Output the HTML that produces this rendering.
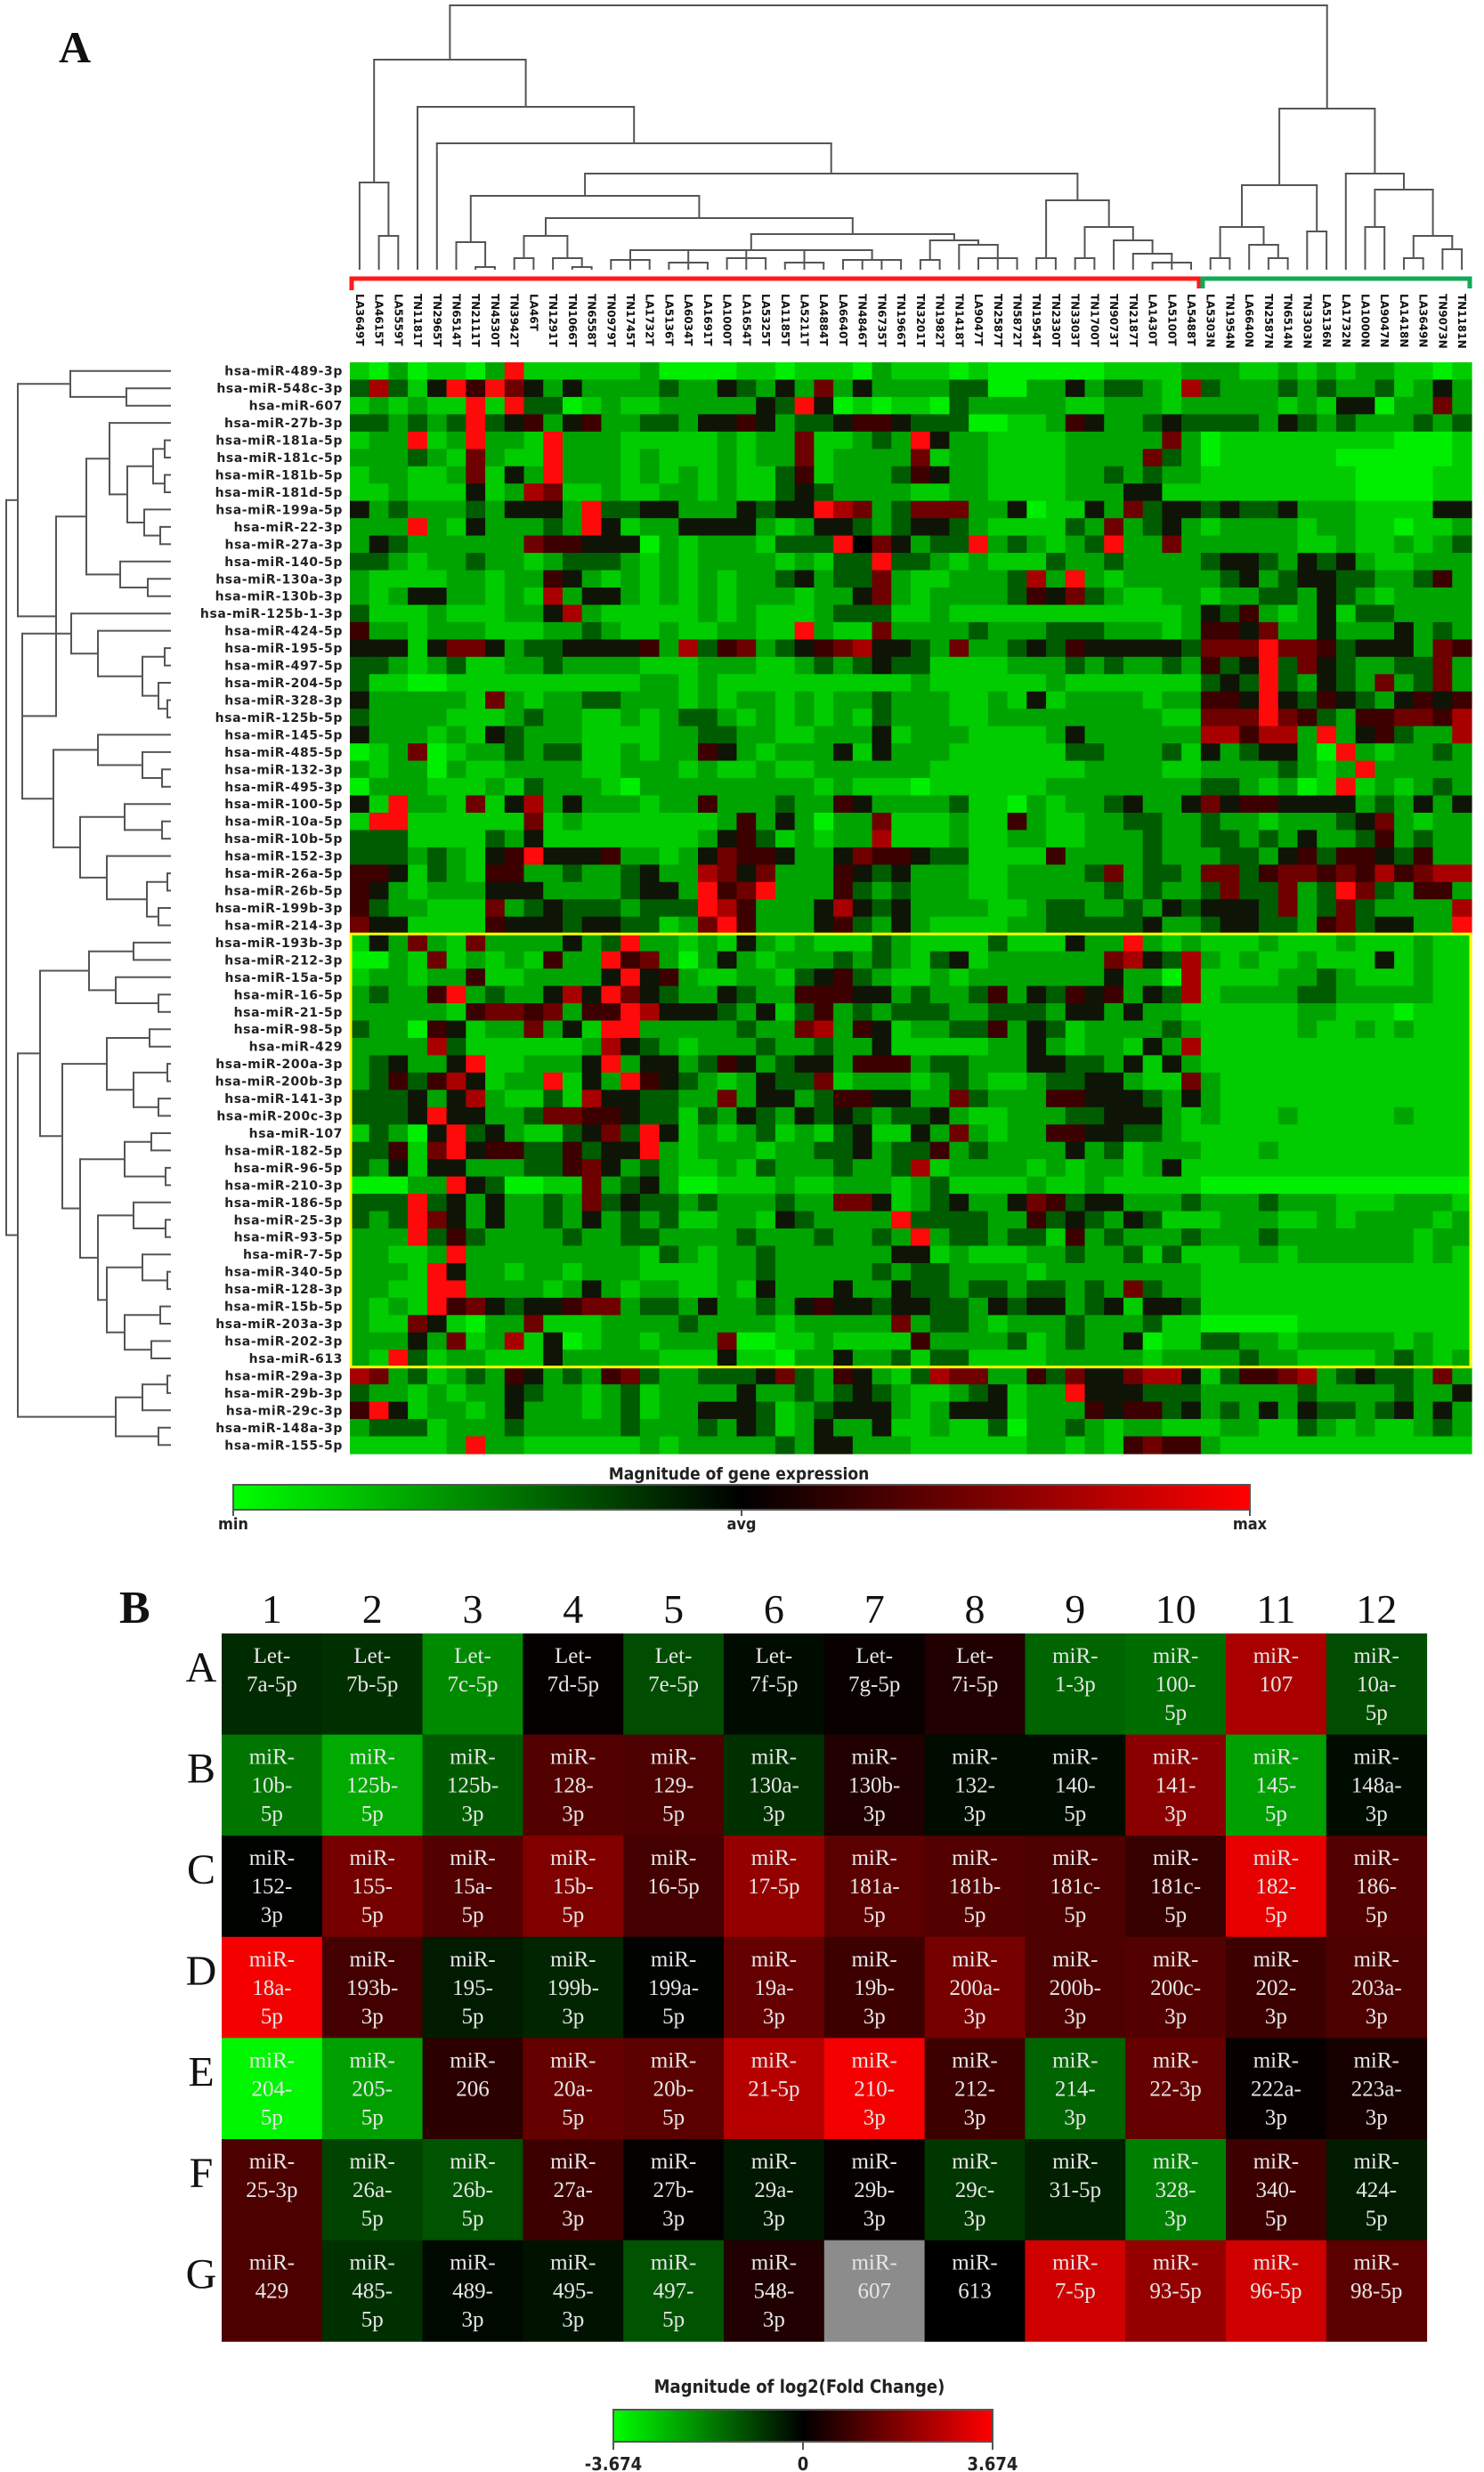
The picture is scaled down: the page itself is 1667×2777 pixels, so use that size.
<!DOCTYPE html>
<html><head><meta charset="utf-8">
<style>
html,body{margin:0;padding:0;background:#fff;}
svg{display:block;}
.rl{font-family:"DejaVu Sans",sans-serif;font-weight:bold;font-size:14px;fill:#222;letter-spacing:0.6px;}
.cl{font-family:"DejaVu Sans",sans-serif;font-weight:bold;font-size:12px;fill:#111;}
.ser{font-family:"Liberation Serif",serif;}
.cb{font-family:"DejaVu Sans Condensed","DejaVu Sans",sans-serif;font-weight:bold;fill:#222;}
</style></head>
<body>
<svg id="fig" width="1667" height="2777" viewBox="0 0 1667 2777" xmlns="http://www.w3.org/2000/svg">
<defs>
<linearGradient id="gA" x1="0" x2="1" y1="0" y2="0"><stop offset="0" stop-color="#00ff00"/><stop offset="0.5" stop-color="#000000"/><stop offset="1" stop-color="#ff0000"/></linearGradient>
</defs>
<text x="66" y="70" class="ser" font-size="50" font-weight="bold" fill="#111">A</text>
<text x="134" y="1823" class="ser" font-size="52" font-weight="bold" fill="#111">B</text>
<g id="dendTop"></g>
<g id="dendLeft"></g>
<g id="brackets"></g>
<g id="colLabels"></g>
<g id="rowLabels"></g>
<g id="heatA"></g>
<g id="legendA">
<text x="830" y="1662" text-anchor="middle" class="cb" font-size="19">Magnitude of gene expression</text>
<rect x="262" y="1668" width="1142" height="28" fill="url(#gA)" stroke="#555" stroke-width="2"/>
<line x1="262" y1="1696" x2="262" y2="1703" stroke="#555" stroke-width="2"/>
<line x1="833" y1="1696" x2="833" y2="1703" stroke="#555" stroke-width="2"/>
<line x1="1404" y1="1696" x2="1404" y2="1703" stroke="#555" stroke-width="2"/>
<text x="262" y="1718" text-anchor="middle" class="cb" font-size="18">min</text>
<text x="833" y="1718" text-anchor="middle" class="cb" font-size="18">avg</text>
<text x="1404" y="1718" text-anchor="middle" class="cb" font-size="18">max</text>
</g>
<g id="heatB"></g>
<g id="legendB">
<text x="898" y="2688" text-anchor="middle" class="cb" font-size="20">Magnitude of log2(Fold Change)</text>
<rect x="689" y="2707" width="426" height="36" fill="url(#gA)" stroke="#555" stroke-width="2"/>
<line x1="689" y1="2743" x2="689" y2="2752" stroke="#555" stroke-width="2"/>
<line x1="902" y1="2743" x2="902" y2="2752" stroke="#555" stroke-width="2"/>
<line x1="1115" y1="2743" x2="1115" y2="2752" stroke="#555" stroke-width="2"/>
<text x="689" y="2775" text-anchor="middle" class="cb" font-size="20">-3.674</text>
<text x="902" y="2775" text-anchor="middle" class="cb" font-size="20">0</text>
<text x="1115" y="2775" text-anchor="middle" class="cb" font-size="20">3.674</text>
</g>
</svg>
<script>
var rowNames=["hsa-miR-489-3p","hsa-miR-548c-3p","hsa-miR-607","hsa-miR-27b-3p","hsa-miR-181a-5p","hsa-miR-181c-5p","hsa-miR-181b-5p","hsa-miR-181d-5p","hsa-miR-199a-5p","hsa-miR-22-3p","hsa-miR-27a-3p","hsa-miR-140-5p","hsa-miR-130a-3p","hsa-miR-130b-3p","hsa-miR-125b-1-3p","hsa-miR-424-5p","hsa-miR-195-5p","hsa-miR-497-5p","hsa-miR-204-5p","hsa-miR-328-3p","hsa-miR-125b-5p","hsa-miR-145-5p","hsa-miR-485-5p","hsa-miR-132-3p","hsa-miR-495-3p","hsa-miR-100-5p","hsa-miR-10a-5p","hsa-miR-10b-5p","hsa-miR-152-3p","hsa-miR-26a-5p","hsa-miR-26b-5p","hsa-miR-199b-3p","hsa-miR-214-3p","hsa-miR-193b-3p","hsa-miR-212-3p","hsa-miR-15a-5p","hsa-miR-16-5p","hsa-miR-21-5p","hsa-miR-98-5p","hsa-miR-429","hsa-miR-200a-3p","hsa-miR-200b-3p","hsa-miR-141-3p","hsa-miR-200c-3p","hsa-miR-107","hsa-miR-182-5p","hsa-miR-96-5p","hsa-miR-210-3p","hsa-miR-186-5p","hsa-miR-25-3p","hsa-miR-93-5p","hsa-miR-7-5p","hsa-miR-340-5p","hsa-miR-128-3p","hsa-miR-15b-5p","hsa-miR-203a-3p","hsa-miR-202-3p","hsa-miR-613","hsa-miR-29a-3p","hsa-miR-29b-3p","hsa-miR-29c-3p","hsa-miR-148a-3p","hsa-miR-155-5p"];
var colNames=["LA3649T","LA4615T","LA5559T","TN1181T","TN2965T","TN6514T","TN2111T","TN4530T","TN3942T","LA46T","TN1291T","TN1066T","TN6558T","TN0979T","TN1745T","LA1732T","LA5136T","LA6034T","LA1691T","LA1000T","LA1654T","LA5325T","LA1185T","LA5211T","LA4884T","LA6640T","TN4846T","TN6735T","TN1966T","TN3201T","TN1982T","TN1418T","LA9047T","TN2587T","TN5872T","TN1954T","TN2330T","TN3303T","TN1700T","TN9073T","TN2187T","LA1430T","LA5100T","LA5488T","LA5303N","TN1954N","LA6640N","TN2587N","TN6514N","TN3303N","LA5136N","LA1732N","LA1000N","LA9047N","LA1418N","LA3649N","TN9073N","TN1181N"];
var exprRows=[
"1020110281111112000011011102111010000001111222112121221101",
"3731485864242222322432426242222330022423321732223232231242",
"1212118183301211222224384010110322222112221222221214402262",
"3323238345245223324454233455433300112542234333324323222323",
"1228128221822211111212261123284221111222226201111111110001",
"2223216211822212111212261222261221111222263201111110000001",
"1221126142822212121211351222354221111223232211111111000011",
"1121114127611211221211343222211221111222441111111111000011",
"4232223244428334422243448762366622401142634434334222111144",
"2228214222328412244442124432344321111326234212222122110112",
"2432222226554440212221333896423382321238226222222112112123",
"3321223221233321212222121338332121113223222234432434211222",
"2111122122542121212122342336211222372821222223423443322352",
"2124422121724421212122212246212222354632112212233243212222",
"3111211122472111112121112333112111111111111243521241332222",
"5221222111223211211221182116222232223332221255462242224232",
"4441466423344445273562345674432622343544444366686653444265",
"3321231122322221112221123234331111222323223253483643223362",
"3110011111111112212111111111121111112111111134383243262362",
"4222221621223322212122121223222112141222212255484354324545",
"3222211123221121233212121213222112222222221166686532556657",
"4222121432221111223322112224122211112422222277577282453227",
"0126012232331121225421222414222111111332223142344208212232",
"2122021122221122212112112222221111111122221122223212822222",
"0222111213222102222222221211101111112222222233212018121232",
"4182216147242221225222322542222311021223422464554444232424",
"1881111116121111111252420226111211521122332232212223462122",
"3331111324111111112453121227111211221122232233232422352322",
"3332321458444522124655422465543311115222232223324535543522",
"5541321552232234227646222543422211222236233266356656575677",
"5421222444222234428568222532322211222223232236336238632552",
"5322111623433323338752224743422221123322324344436236322227",
"6441111544434433126852224532421111223333342234433256344228",
"1426216222242382212142121113211113111422821211121112111211",
"0021612121522856202421222323213412222226743721211211141211",
"1221225112222484521122134532112122222224220711112232111211",
"2322582322474864322432255544232235243545243712222332222211",
"2222215665625587444324135232333223332442422111111221110111",
"3220541226241882222232267254122335243122223211111211212111",
"2222731111112743212223223224111112242122142711111111111111",
"2342248112224824423542344255523322244332414211111111111111",
"2353574122814285432124336122212321123344211621111111111111",
"3334247211317443322624423554422632225544432421111111111111",
"3334844223665543313243243432334211222334442121112111112111",
"1320483421134638412123121341142621225544332111111111111111",
"3351684553353448212221223342335232222423122211121111111111",
"3241442223356423211213222322371222212122124111111111111111",
"0002284300116234200111211222123111121121111100000000000000",
"3338342422326343323222322664123422465344222322232221112221",
"3238642422324232311221432222833332253432431112221121222212",
"2228353222232233222232223223282332331523222322232222222122",
"2211282222222221321223222222441211122322313111221222222121",
"2221842212212221111223222223233222212222222211111111111111",
"2211882222124212211214222422433233233232632211111111111111",
"2121856434456623324223245443443324344234144311111111111111",
"2116410226111222232222122222623321222322231100000111111111",
"2224261271401221222600112111152222312322401133221222221211",
"2183122111422222111411022422313311112222212222322111123212",
"7623123254232563223334632542137662253644677413556723433262",
"3221212243221231222242232343211234122844433322222322223224",
"5841221242221231224443123444212444122254553423242433234242",
"2333122232222232223243124224112113022321221112211321211232",
"1111128221111112122222324422211111122121565521111111111111"
];
var plateRows=["A","B","C","D","E","F","G"];
var plateCols=["1","2","3","4","5","6","7","8","9","10","11","12"];
var plateLabels=[
["Let-|7a-5p","Let-|7b-5p","Let-|7c-5p","Let-|7d-5p","Let-|7e-5p","Let-|7f-5p","Let-|7g-5p","Let-|7i-5p","miR-|1-3p","miR-|100-|5p","miR-|107","miR-|10a-|5p"],
["miR-|10b-|5p","miR-|125b-|5p","miR-|125b-|3p","miR-|128-|3p","miR-|129-|5p","miR-|130a-|3p","miR-|130b-|3p","miR-|132-|3p","miR-|140-|5p","miR-|141-|3p","miR-|145-|5p","miR-|148a-|3p"],
["miR-|152-|3p","miR-|155-|5p","miR-|15a-|5p","miR-|15b-|5p","miR-|16-5p","miR-|17-5p","miR-|181a-|5p","miR-|181b-|5p","miR-|181c-|5p","miR-|181c-|5p","miR-|182-|5p","miR-|186-|5p"],
["miR-|18a-|5p","miR-|193b-|3p","miR-|195-|5p","miR-|199b-|3p","miR-|199a-|5p","miR-|19a-|3p","miR-|19b-|3p","miR-|200a-|3p","miR-|200b-|3p","miR-|200c-|3p","miR-|202-|3p","miR-|203a-|3p"],
["miR-|204-|5p","miR-|205-|5p","miR-|206","miR-|20a-|5p","miR-|20b-|5p","miR-|21-5p","miR-|210-|3p","miR-|212-|3p","miR-|214-|3p","miR-|22-3p","miR-|222a-|3p","miR-|223a-|3p"],
["miR-|25-3p","miR-|26a-|5p","miR-|26b-|5p","miR-|27a-|3p","miR-|27b-|3p","miR-|29a-|3p","miR-|29b-|3p","miR-|29c-|3p","miR-|31-5p","miR-|328-|3p","miR-|340-|5p","miR-|424-|5p"],
["miR-|429","miR-|485-|5p","miR-|489-|3p","miR-|495-|3p","miR-|497-|5p","miR-|548-|3p","miR-|607","miR-|613","miR-|7-5p","miR-|93-5p","miR-|96-5p","miR-|98-5p"]
];
var foldA=[-1.5,-1.6,-2.7,0.5,-2.0,-0.8,0.7,1.3,-2.3,-2.4,3.0,-2.0];
var foldB=[-2.5,-3.0,-2.2,2.1,2.0,-1.6,1.3,-0.8,-0.8,2.7,-2.9,-0.8];
var foldC=[-0.3,2.5,2.1,2.6,1.9,2.8,2.2,2.1,2.0,1.7,3.5,2.1];
var foldD=[3.6,1.9,-1.2,-1.4,-0.4,2.3,1.8,2.5,2.0,2.1,1.8,2.0];
var foldE=[-3.6,-2.9,1.5,2.3,2.2,3.1,3.6,1.8,-2.3,2.3,0.6,1.1];
var foldF=[2.0,-1.9,-2.1,1.8,0.5,-1.1,0.6,-1.7,-1.3,-2.6,1.8,-1.2];
var foldG=[2.0,-1.6,-0.7,-1.0,-2.1,1.3,null,0.1,3.3,2.8,3.3,2.2];
var foldRows=[foldA,foldB,foldC,foldD,foldE,foldF,foldG];

var rA=[79,0,[142,1,2]];
var rB1=[123,3,[143,[172,[185,4,5],[185,6,7]],[162,8,[180,9,10]]]];
var rB2=[135,11,[166,12,13]];
var rB=[97,rB1,rB2];
var rC1=[80,14,[110,15,[160,[185,16,17],[178,18,[188,19,20]]]]];
var rC2=[60,[110,21,[160,22,[182,23,24]]],[90,[140,25,[182,26,27]],[120,28,[165,[188,29,30],[178,31,32]]]]];
var rC=[25,rC1,rC2];
var rD1=[100,[150,33,34],[130,35,[178,36,37]]];
var rD2=[120,[168,38,39],[150,[188,40,41],[178,42,43]]];
var rD3=[90,[140,[170,44,45],[186,46,47]],[110,[150,48,[186,49,50]],[120,[160,51,[188,52,53]],[140,[180,54,55],[170,56,57]]]]];
var rD=[45,rD1,[70,rD2,rD3]];
var rE=[130,[160,[188,58,59],60],[178,61,62]];
var rowTree=[7,[20,rA,[63,rB,rC]],[20,rD,rE]];

var cA=[205,0,[265,1,2]];
var cF1=[272,5,[300,6,7]];
var cF3=[265,[290,8,9],[290,10,[300,11,12]]];
var cF5=[281,[292,13,14,15],[295,16,17,18],[290,19,20,21],[295,22,23,24],[292,25,26,27,28]];
var cF6=[270,[292,29,30],[275,31,[290,32,33,34]]];
var cF=[220,cF1,[245,cF3,[263,cF5,cF6]]];
var cG=[225,[290,35,36],[255,[290,37,38],[270,39,[285,40,[295,41,42,43]]]]];
var cT=[67,cA,[120,3,[161,4,[195,cF,cG]]]];
var cN1=[208,[255,[290,44,45],[275,46,[290,47,48]]],[260,49,50]];
var cN2=[195,51,[213,[255,52,53],[265,[290,54,55],[280,56,57]]]];
var colTree=[6,cT,[122,cN1,cN2]];

var NS="http://www.w3.org/2000/svg";
function mk(tag,attrs,parent){var e=document.createElementNS(NS,tag);for(var k in attrs){e.setAttribute(k,attrs[k]);}parent.appendChild(e);return e;}

var HX=393,HY=407,HW=1260,HH=1226;
var nR=rowNames.length,nC=colNames.length;
var cw=HW/nC,rh=HH/nR;
function xCol(i){return HX+i*cw;}
function yRow(j){return HY+j*rh;}
var exprColors=["#00ef00","#00cc00","#00a400","#005c00","#0e1406","#3c0000","#6e0000","#a80000","#ff0a0a"];

try{
var gH=document.getElementById('heatA');
for(var r=0;r<nR;r++){
  var s=exprRows[r]||"";
  for(var c=0;c<nC;c++){
    var chv=s.charAt(c);
    var v=parseInt(chv,10);
    if(isNaN(v)){v=1;}
    var rc=mk('rect',{x:xCol(c).toFixed(2),y:yRow(r).toFixed(2),width:(cw+0.6).toFixed(2),height:(rh+0.6).toFixed(2),fill:exprColors[v]},gH);
    
    
  }
}
var yb=mk('rect',{x:HX+1,y:yRow(33).toFixed(1),width:HW-2,height:(rh*25).toFixed(1),fill:'none',stroke:'#ffff00','stroke-width':3},gH);


}catch(e){}

try{
var gRL=document.getElementById('rowLabels');
for(var r2=0;r2<nR;r2++){
  var tl=mk('text',{x:385,y:(yRow(r2)+rh/2+5).toFixed(1),'text-anchor':'end','class':'rl'},gRL);
  tl.textContent=rowNames[r2];
  
  
}
var gCL=document.getElementById('colLabels');
for(var c2=0;c2<nC;c2++){
  var cx=xCol(c2)+cw/2-4;
  var tc=mk('text',{x:0,y:0,transform:'translate('+cx.toFixed(1)+',330) rotate(90)','class':'cl'},gCL);
  tc.textContent=colNames[c2];
  
  
}
var gB=document.getElementById('brackets');
var splitX=xCol(44);
var br1=mk('path',{d:'M'+(HX+2)+' 326 V313 H'+(splitX-2).toFixed(1)+' V324',fill:'none',stroke:'#ff1a1a','stroke-width':5},gB);


var br2=mk('path',{d:'M'+(splitX+2).toFixed(1)+' 324 V313 H'+(HX+HW-2)+' V324',fill:'none',stroke:'#11aa55','stroke-width':5},gB);


}catch(e){}

var dStroke='#555';
function drawTop(node,g){
  if(typeof node==='number'){return {p:xCol(node)+cw/2,h:303};}
  var h=node[0],ps=[];
  for(var i=1;i<node.length;i++){
    var ch=drawTop(node[i],g);
    mk('line',{x1:ch.p.toFixed(1),y1:ch.h,x2:ch.p.toFixed(1),y2:h,stroke:dStroke,'stroke-width':2},g);
    ps.push(ch.p);
  }
  var mn=Math.min.apply(null,ps),mx=Math.max.apply(null,ps);
  mk('line',{x1:(mn-1).toFixed(1),y1:h,x2:(mx+1).toFixed(1),y2:h,stroke:dStroke,'stroke-width':2},g);
  return {p:(mn+mx)/2,h:h};
}
function drawLeft(node,g){
  if(typeof node==='number'){return {p:yRow(node)+rh/2,h:192};}
  var h=node[0],ps=[];
  for(var i=1;i<node.length;i++){
    var ch=drawLeft(node[i],g);
    mk('line',{x1:ch.h,y1:ch.p.toFixed(1),x2:h,y2:ch.p.toFixed(1),stroke:dStroke,'stroke-width':2},g);
    ps.push(ch.p);
  }
  var mn=Math.min.apply(null,ps),mx=Math.max.apply(null,ps);
  mk('line',{x1:h,y1:(mn-1).toFixed(1),x2:h,y2:(mx+1).toFixed(1),stroke:dStroke,'stroke-width':2},g);
  return {p:(mn+mx)/2,h:h};
}
try{drawTop(colTree,document.getElementById('dendTop'));}catch(e){}
try{drawLeft(rowTree,document.getElementById('dendLeft'));}catch(e){}

var BX=249,BY=1835,BW=112.8,BH=113.6,LIM=3.674;
function foldColor(v){
  if(v===null){return '#8c8c8c';}
  var t=Math.min(1,Math.abs(v)/LIM);var k=Math.round(255*t*t);
  return v<0?'rgb(0,'+k+',0)':'rgb('+k+',0,0)';
}
try{
var gB2=document.getElementById('heatB');
for(var pc=0;pc<plateCols.length;pc++){
  var tn=mk('text',{x:(BX+(pc+0.5)*BW).toFixed(1),y:1823,'text-anchor':'middle','class':'ser','font-size':46,fill:'#111'},gB2);
  tn.textContent=plateCols[pc];
  
  
}
for(var pr=0;pr<plateRows.length;pr++){
  var tr=mk('text',{x:226,y:(BY+pr*BH+54).toFixed(1),'text-anchor':'middle','class':'ser','font-size':48,fill:'#111'},gB2);
  tr.textContent=plateRows[pr];
  
  
  for(var q=0;q<plateCols.length;q++){
    var x=BX+q*BW,y=BY+pr*BH;
    var cell=mk('rect',{x:x.toFixed(1),y:y.toFixed(1),width:(BW+0.5).toFixed(1),height:(BH+0.5).toFixed(1),fill:foldColor(foldRows[pr][q])},gB2);
    
    
    var lines=plateLabels[pr][q].split('|');
    var tx=mk('text',{x:(x+BW/2).toFixed(1),y:(y+33).toFixed(1),'text-anchor':'middle','class':'ser','font-size':25,fill:'#e6e6e6'},gB2);
    
    
    for(var l=0;l<lines.length;l++){
      var sp=mk('tspan',{x:(x+BW/2).toFixed(1),dy:(l===0?0:32)},tx);
      sp.textContent=lines[l];
    }
  }
}
}catch(e){}
</script>
</body></html>
